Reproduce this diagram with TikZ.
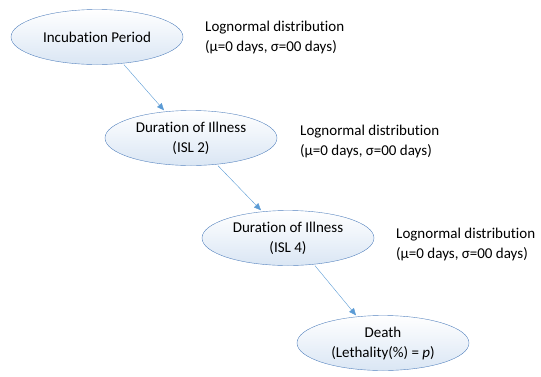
\documentclass[tikz,border=0pt]{standalone}
\usepackage{fontspec}
\setmainfont{Carlito}[Ligatures=NoCommon]
\usetikzlibrary{shapes.geometric,arrows.meta}

\definecolor{edgeblue}{RGB}{84,130,190}
\definecolor{arrowblue}{RGB}{91,155,213}
\definecolor{fillblue}{RGB}{218,230,244}

\def\offset{27pt}

\begin{document}
\begin{tikzpicture}
[x=1pt,y=-1pt,
every node/.style={
  font=\fontsize{15}{20}\selectfont
},
stage/.style={
  ellipse, draw=edgeblue, top color=white, bottom color=fillblue,
  minimum width=172pt, minimum height=55pt, align=center, inner sep=0pt
},
distlabel/.style={
  anchor=west, align=left, inner sep=0pt
},
flow/.style={
  draw=arrowblue, -{Triangle[length=7pt,width=6pt]}
}
]
\useasboundingbox (0,0) rectangle (541,376);

% Stages
\node[stage] (incubation) at (97,37) {Incubation Period};
\node[stage] (illness2) at (191,138) {Duration of Illness\\(ISL 2)};
\node[stage] (illness4) at (288,238) {Duration of Illness\\(ISL 4)};
\node[stage] (death) at (383,343) {Death\\(Lethality(\%) = \textit{p})};

% Distributions
\node[distlabel] (dist1) at (205,37) {Lognormal distribution\\(μ=0 days, σ=00 days)};
\node[distlabel] (dist2) at (300,141) {Lognormal distribution\\(μ=0 days, σ=00 days)};
\node[distlabel] (dist3) at (396,244) {Lognormal distribution\\(μ=0 days, σ=00 days)};

% Arrows
\draw[flow] ([xshift=\offset]incubation.south) -- ([xshift=-\offset]illness2.north);
\draw[flow] ([xshift=\offset]illness2.south) -- ([xshift=-\offset]illness4.north);
\draw[flow] ([xshift=\offset]illness4.south) -- ([xshift=-\offset]death.north);

\end{tikzpicture}
\end{document}
